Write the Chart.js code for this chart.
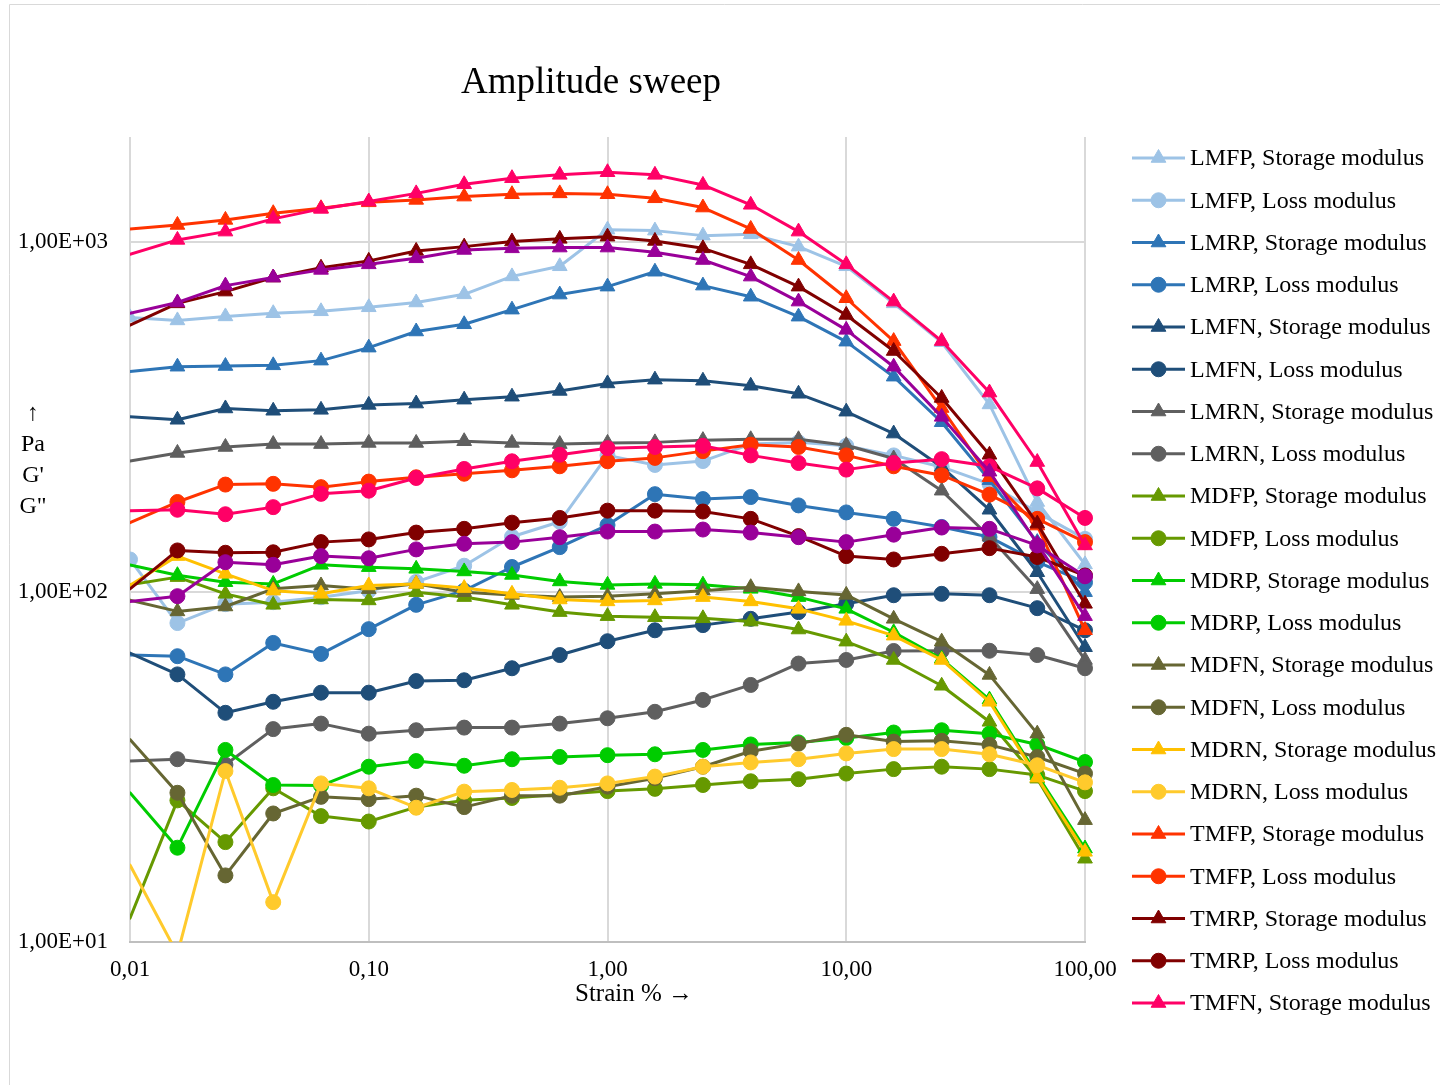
<!DOCTYPE html>
<html lang="en">
<head>
    <meta charset="UTF-8">
    <title>Amplitude sweep</title>
    <script src="https://cdn.jsdelivr.net/npm/chart.js"></script>
    <style>
        html, body { margin: 0; padding: 0; background: #fff; }
        canvas { display: block; }
    </style>
</head>
<body>
    <canvas id="sweepChart" width="1440" height="1085"></canvas>

    <script>
        // strain amplitude, %
        const strain = [0.01, 0.0158, 0.0251, 0.0398, 0.0631, 0.1, 0.158, 0.251, 0.398, 0.631, 1, 1.58, 2.51, 3.98, 6.31, 10, 15.8, 25.1, 39.8, 63.1, 100];

        // G' (storage) and G'' (loss) modulus, Pa
        const lmfpStorage = [610, 598, 614, 627, 635, 652, 673, 710, 799, 854, 1087, 1080, 1045, 1054, 972, 854, 669, 518, 344, 181, 120];
        const lmfpLoss = [124, 81.6, 92.4, 93.6, 96.7, 101, 107, 119, 144, 159, 246, 231, 237, 265, 268, 262, 246, 228, 204, 169, 142];
        const lmrpStorage = [427, 441, 443, 445, 459, 500, 556, 583, 642, 709, 747, 824, 752, 699, 613, 520, 413, 306, 209, 139, 100];
        const lmrpLoss = [66.1, 65.6, 58.2, 71.6, 66.6, 78.4, 92, 101, 118, 134.5, 155.5, 190.6, 184.5, 187, 177, 169, 162, 153.6, 143.7, 122, 106.6];
        const lmfnStorage = [317, 311, 335, 330, 332, 343, 346, 355, 362, 376, 395, 405, 402, 389, 369, 328, 284, 228, 172, 114, 69.6];
        const lmfnLoss = [67, 58.2, 45.2, 48.6, 51.6, 51.6, 55.7, 56, 60.6, 66.1, 72.4, 77.8, 80.5, 83.9, 87.7, 92.6, 98, 98.9, 98, 90, 77.8];
        const lmrnStorage = [237, 250, 260, 265, 265, 267, 267, 270, 267, 265, 267, 268, 272, 273.5, 273.5, 263, 241, 195, 144, 102, 64];
        const lmrnLoss = [32.9, 33.3, 32.1, 40.6, 42.1, 39.4, 40.3, 41, 41, 42.1, 43.6, 45.5, 49.2, 54.3, 62.5, 64, 67.9, 68, 68, 66.1, 60.6];
        const mdfpStorage = [105, 110.4, 98.9, 92, 95.3, 94.7, 100, 96.8, 92, 87.7, 85.4, 84.8, 84.2, 82.4, 78.2, 72.2, 64, 54, 42.6, 29.3, 17.3];
        const mdfpLoss = [11.7, 25.4, 19.3, 27.5, 22.9, 22.1, 24.3, 25.4, 25.8, 26.4, 27, 27.4, 28.1, 28.8, 29.2, 30.3, 31.2, 31.7, 31.2, 30, 27];
        const mdrpStorage = [119.6, 111.8, 106.8, 105.6, 119.7, 117.9, 116.6, 114.6, 112, 107.3, 104.9, 105.6, 105, 102.2, 96.8, 89.6, 76.8, 64.5, 49.3, 30, 18.5];
        const mdrpLoss = [26.7, 18.6, 35.4, 28.1, 28, 31.7, 32.9, 31.9, 33.3, 33.8, 34.2, 34.4, 35.4, 36.7, 37.2, 38.3, 39.7, 40.3, 39.4, 36.7, 32.7];
        const mdfnStorage = [94.9, 88.1, 91, 102.2, 104.5, 102, 105.6, 100, 98.2, 96.8, 97.4, 99, 101, 103.3, 100.5, 98.2, 83.9, 72.2, 58, 39.4, 22.3];
        const mdfnLoss = [37.9, 26.7, 15.5, 23.3, 26, 25.6, 26.2, 24.3, 26.2, 26.2, 27.8, 29.4, 31.7, 35.1, 36.9, 39.1, 37.4, 37.6, 36.6, 33.8, 30.3];
        const mdrnStorage = [104.7, 126.8, 112.8, 101, 98.9, 104.5, 105.6, 102.7, 98.9, 95.3, 94.1, 94.7, 96.8, 94.1, 89.6, 82.8, 75.1, 64, 48.6, 29.5, 18.1];
        const mdrnLoss = [16.6, 9.24, 30.8, 13, 28.4, 27.5, 24.2, 26.9, 27.2, 27.6, 28.4, 29.7, 31.7, 32.6, 33.3, 34.6, 35.6, 35.6, 34.4, 32, 28.6];
        const tmfpStorage = [1092, 1121, 1159, 1211, 1251, 1301, 1322, 1351, 1372, 1380, 1372, 1336, 1257, 1092, 890, 692, 522, 336, 213, 155, 77.8];
        const tmfpLoss = [158, 181, 203, 204, 199.6, 207, 213, 218, 223, 229, 236.7, 242, 253, 264, 260, 246, 229, 216, 190, 162, 139];
        const tmrpStorage = [580, 669, 723, 793, 846, 885, 945, 972, 1005, 1023, 1038, 1009, 961, 865, 747, 620, 489, 359, 247, 157, 92.6];
        const tmrpLoss = [102.2, 131.6, 129.6, 130, 139, 141.5, 148, 151.7, 158, 163, 171, 171, 170, 162, 144.6, 126.8, 124, 128.7, 133.6, 126, 111.6];
        const tmfnStorage = [924, 1016, 1073, 1167, 1246, 1308, 1380, 1465, 1525, 1559, 1586, 1559, 1459, 1280, 1073, 865, 677, 522, 372, 235.5, 136];
        const tmfnLoss = [171, 172, 167, 175, 191, 195, 212, 225, 236.6, 247, 258, 260, 262, 246, 234, 224, 234, 240, 229, 198, 163];
        const tmrnStorage = [627, 673, 752, 793, 834, 865, 900, 951, 961, 966, 966, 937, 890, 798, 677, 562, 441, 317, 221, 137.5, 85.4];
        const tmrnLoss = [94.1, 97.4, 121.8, 119.7, 126.8, 125, 132.5, 137.5, 139, 143.6, 149, 149, 151, 148, 143.6, 139, 146, 153, 151.7, 136, 111];

        // axis ticks
        const xTicks = [0.01, 0.1, 1, 10, 100];
        const xTickLabels = ['0,01', '0,10', '1,00', '10,00', '100,00'];
        const yTicks = [10, 100, 1000];
        const yTickLabels = ['1,00E+01', '1,00E+02', '1,00E+03'];

        const series = [
            ['LMFP, Storage modulus', lmfpStorage, '#9DC3E6', 'triangle'],
            ['LMFP, Loss modulus', lmfpLoss, '#9DC3E6', 'circle'],
            ['LMRP, Storage modulus', lmrpStorage, '#2E75B6', 'triangle'],
            ['LMRP, Loss modulus', lmrpLoss, '#2E75B6', 'circle'],
            ['LMFN, Storage modulus', lmfnStorage, '#1F4E79', 'triangle'],
            ['LMFN, Loss modulus', lmfnLoss, '#1F4E79', 'circle'],
            ['LMRN, Storage modulus', lmrnStorage, '#5F5F5F', 'triangle'],
            ['LMRN, Loss modulus', lmrnLoss, '#5F5F5F', 'circle'],
            ['MDFP, Storage modulus', mdfpStorage, '#669900', 'triangle'],
            ['MDFP, Loss modulus', mdfpLoss, '#669900', 'circle'],
            ['MDRP, Storage modulus', mdrpStorage, '#00CC00', 'triangle'],
            ['MDRP, Loss modulus', mdrpLoss, '#00CC00', 'circle'],
            ['MDFN, Storage modulus', mdfnStorage, '#666633', 'triangle'],
            ['MDFN, Loss modulus', mdfnLoss, '#666633', 'circle'],
            ['MDRN, Storage modulus', mdrnStorage, '#FFC000', 'triangle'],
            ['MDRN, Loss modulus', mdrnLoss, '#FFCA2C', 'circle'],
            ['TMFP, Storage modulus', tmfpStorage, '#FF3300', 'triangle'],
            ['TMFP, Loss modulus', tmfpLoss, '#FF3300', 'circle'],
            ['TMRP, Storage modulus', tmrpStorage, '#800000', 'triangle'],
            ['TMRP, Loss modulus', tmrpLoss, '#800000', 'circle'],
            ['TMFN, Storage modulus', tmfnStorage, '#FF0066', 'triangle'],
            ['TMFN, Loss modulus', tmfnLoss, '#FF0066', 'circle'],
            ['TMRN, Storage modulus', tmrnStorage, '#990099', 'triangle'],
            ['TMRN, Loss modulus', tmrnLoss, '#990099', 'circle']
        ];

        const serif = '"Liberation Serif", "Times New Roman", serif';
        const markerSize = { triangle: 8.5, circle: 7.5 };
        const legendRows = 21; // the rest falls outside the chart box

        const datasets = series.map(([label, values, color, marker], i) => ({
            label: label,
            data: strain.map((x, j) => ({ x: x, y: values[j] })),
            borderColor: color,
            backgroundColor: color,
            pointBackgroundColor: color,
            pointBorderColor: color,
            borderWidth: 3,
            borderJoinStyle: 'round',
            borderCapStyle: 'round',
            pointStyle: marker,
            pointBorderWidth: 1,
            // first marker sits outside the plot box for all but the first two series
            pointRadius: ctx => (ctx.dataIndex === 0 && i > 1) ? 0 : markerSize[marker],
            tension: 0,
            clip: { left: 0, top: false, right: false, bottom: 0 },
            order: series.length - i
        }));

        // title, axis titles, legend and chart frame
        const decorations = {
            id: 'decorations',
            beforeDraw(chart) {
                const ctx = chart.ctx;
                ctx.save();
                ctx.strokeStyle = '#d9d9d9';
                ctx.lineWidth = 1;
                ctx.beginPath();
                ctx.moveTo(9.5, 1085);
                ctx.lineTo(9.5, 4.5);
                ctx.lineTo(1440, 4.5);
                ctx.stroke();
                ctx.restore();
            },
            afterDraw(chart) {
                const ctx = chart.ctx;
                ctx.save();
                ctx.fillStyle = '#000';
                ctx.textBaseline = 'middle';

                ctx.textAlign = 'center';
                ctx.font = '37px ' + serif;
                ctx.fillText('Amplitude sweep', 591, 83);

                ctx.font = '24px ' + serif;
                ['↑', 'Pa', "G'", 'G"'].forEach((t, k) => ctx.fillText(t, 33, 414 + k * 31));
                ctx.font = '25px ' + serif;
                ctx.fillText('Strain % →', 634, 994);

                ctx.font = '24px ' + serif;
                ctx.textAlign = 'left';
                chart.data.datasets.slice(0, legendRows).forEach((ds, k) => {
                    const y = 158 + k * 42.25;
                    ctx.strokeStyle = ds.borderColor;
                    ctx.lineWidth = 3;
                    ctx.beginPath();
                    ctx.moveTo(1132, y);
                    ctx.lineTo(1185, y);
                    ctx.stroke();
                    ctx.fillStyle = ds.backgroundColor;
                    ctx.lineWidth = 1;
                    Chart.helpers.drawPoint(ctx, {
                        pointStyle: ds.pointStyle,
                        radius: markerSize[ds.pointStyle],
                        rotation: 0,
                        borderWidth: 1
                    }, 1158.5, y);
                    ctx.fillStyle = '#000';
                    ctx.fillText(ds.label, 1190, y + 1);
                });
                ctx.restore();
            }
        };

        new Chart(document.getElementById('sweepChart'), {
            type: 'line',
            data: { datasets: datasets },
            options: {
                responsive: false,
                animation: false,
                events: [],
                layout: { padding: { left: 17, top: 137, right: 355, bottom: 60 } },
                plugins: {
                    legend: { display: false },
                    tooltip: { enabled: false },
                    title: { display: false }
                },
                scales: {
                    x: {
                        type: 'logarithmic',
                        min: 0.01,
                        max: 100,
                        afterBuildTicks: scale => { scale.ticks = xTicks.map(v => ({ value: v })); },
                        afterFit: scale => { scale.height = 83; },
                        ticks: {
                            callback: (value, index) => xTickLabels[index],
                            autoSkip: false,
                            maxRotation: 0,
                            padding: 14,
                            color: '#000',
                            font: { family: serif, size: 23 }
                        },
                        grid: { color: '#d9d9d9', lineWidth: 2, drawTicks: false },
                        border: { color: '#bfbfbf', width: 2 }
                    },
                    y: {
                        type: 'logarithmic',
                        min: 10,
                        max: 2000,
                        afterBuildTicks: scale => { scale.ticks = yTicks.map(v => ({ value: v })); },
                        afterFit: scale => { scale.width = 113; },
                        ticks: {
                            callback: (value, index) => yTickLabels[index],
                            autoSkip: false,
                            padding: 22,
                            color: '#000',
                            font: { family: serif, size: 23 }
                        },
                        grid: {
                            color: ctx => ctx.tick && ctx.tick.value === 10 ? 'rgba(0,0,0,0)' : '#d9d9d9',
                            lineWidth: 2,
                            drawTicks: false
                        },
                        border: { display: false }
                    }
                }
            },
            plugins: [decorations]
        });
    </script>
</body>
</html>
